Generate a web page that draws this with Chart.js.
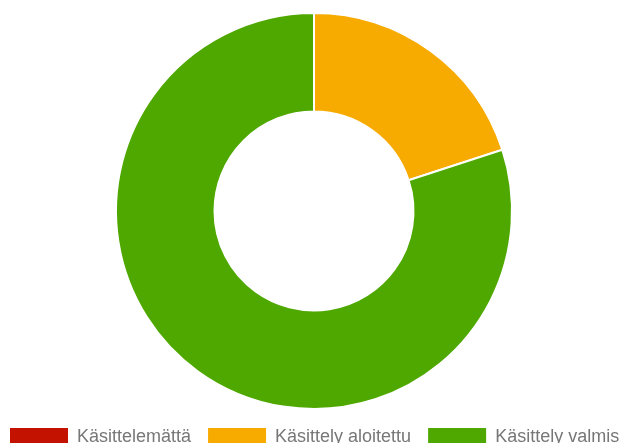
<!DOCTYPE html>
<html>
<head>
<meta charset="utf-8">
<script src="https://cdn.jsdelivr.net/npm/chart.js@4.4.0/dist/chart.umd.min.js"></script>
<style>
    html, body { margin: 0; padding: 0; background: #fff; overflow: hidden; }
    #wrap { width: 623px; height: 449px; }
</style>
</head>
<body>
<div id="wrap"><canvas id="chart" width="623" height="449"></canvas></div>
<script>
/* Käsittelyn tila — doughnut */

const labels = ['Käsittelemättä', 'Käsittely aloitettu', 'Käsittely valmis'];
const values = [0, 1, 4];
const colors = ['#c41200', '#f7aa00', '#4fa800'];

const defaultLabels = Chart.overrides.doughnut.plugins.legend.labels.generateLabels;

// Legend is fitted with padding 10 (so it stays on one row), then drawn
// with a wider gap between items and starting at x = 10.
const legendGap = {
    id: 'legendGap',
    beforeDraw(chart) {
        const legend = chart.legend;
        const gap = 17;
        legend.options.labels.padding = gap;
        legend.right = chart.width + 200;
        legend.lineWidths[0] = legend.left + gap + legend.right - 20;
    }
};

new Chart(document.getElementById('chart').getContext('2d'), {
    type: 'doughnut',
    data: {
        labels: labels,
        datasets: [{
            data: values,
            backgroundColor: colors,
            borderColor: '#ffffff',
            borderWidth: 2
        }]
    },
    options: {
        responsive: false,
        animation: false,
        radius: 198,
        cutout: 100,
        layout: { padding: { top: 11, left: 5 } },
        plugins: {
            tooltip: { enabled: false },
            legend: {
                position: 'bottom',
                labels: {
                    boxWidth: 58,
                    boxHeight: 18,
                    padding: 10,
                    color: '#777777',
                    font: { family: "'Liberation Sans', Arial, sans-serif", size: 18 },
                    // no white outline round the legend swatches
                    generateLabels(chart) {
                        return defaultLabels(chart).map(l => Object.assign(l, { lineWidth: 0 }));
                    }
                }
            }
        }
    },
    plugins: [legendGap]
});
</script>
</body>
</html>
